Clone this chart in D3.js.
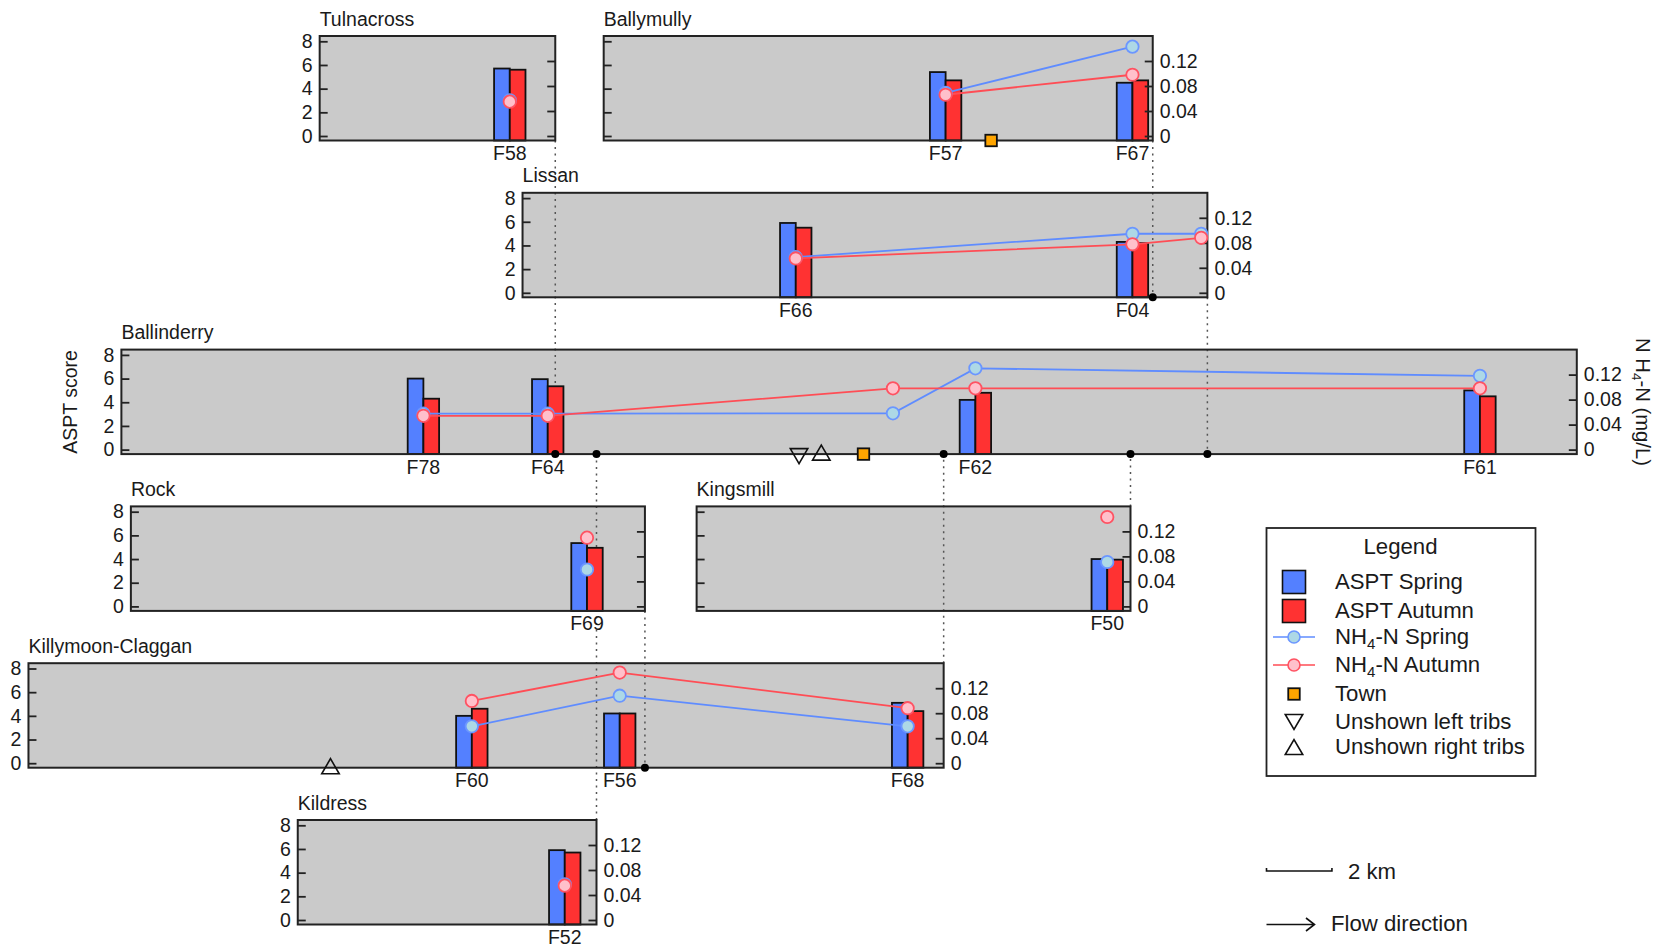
<!DOCTYPE html>
<html>
<head>
<meta charset="utf-8">
<script src="https://cdn.jsdelivr.net/npm/d3@7/dist/d3.min.js"></script>
<style>
html,body{margin:0;padding:0;background:#fff}
svg{display:block}
text{font-family:"Liberation Sans",Arial,sans-serif;fill:#1a1a1a}
</style>
</head>
<body>
<svg id="chart" width="1655" height="947"></svg>
<script>
// ---------- data ----------
const riverNames  = ["Tulnacross","Ballymully","Lissan","Ballinderry","Rock","Kingsmill","Killymoon-Claggan","Kildress"];
const riverStart  = [9.77,18.45,15.97,3.71,4.0,21.29,0.87,9.10];   // km
const riverEnd    = [16.97,35.23,36.90,48.19,19.71,34.55,28.84,18.23];
const riverParent = ["Ballinderry","Lissan","Ballinderry",null,"Killymoon-Claggan","Ballinderry","Ballinderry","Ballinderry"];
const riverRow    = [0,0,1,2,3,3,4,5];
const leftLabels  = [true,false,true,true,true,false,true,true];
const rightLabels = [false,true,true,true,false,true,true,true];

const siteNames  = ["F58","F57","F67","F66","F04","","F78","F64","","F62","F61","F69","F50","F60","F56","F68","F52"];
const siteRiver  = ["Tulnacross","Ballymully","Ballymully","Lissan","Lissan","Lissan","Ballinderry","Ballinderry","Ballinderry","Ballinderry","Ballinderry","Rock","Kingsmill","Killymoon-Claggan","Killymoon-Claggan","Killymoon-Claggan","Kildress"];
const siteKm     = [15.58,28.90,34.61,24.32,34.61,36.71,12.94,16.74,27.29,29.81,45.23,17.94,33.84,14.42,18.94,27.74,17.26];
const asptSpring = [5.7,5.4,4.5,5.9,4.3,null,6.0,5.95,null,4.2,5.0,5.35,4.0,4.0,4.2,5.1,5.9];
const asptAutumn = [5.6,4.7,4.7,5.5,4.2,null,4.3,5.35,null,4.8,4.5,4.95,3.95,4.6,4.2,4.4,5.7];
const nh4Spring  = [0.057,0.069,0.143,0.057,0.0945,0.0945,0.0575,0.0575,0.058,0.13,0.118,0.059,0.071,0.059,0.108,0.059,0.057];
const nh4Autumn  = [0.055,0.066,0.098,0.055,0.0776,0.088,0.054,0.054,0.098,0.098,0.098,0.11,0.143,0.0996,0.145,0.088,0.055];

const townKm = [30.29,26.39];
const townRiver = ["Ballymully","Ballinderry"];
const leftTribKm = [24.42];
const leftTribRiver = ["Ballinderry"];
const rightTribKm = [25.10,10.10];
const rightTribRiver = ["Ballinderry","Killymoon-Claggan"];

const asptTicks = [0,2,4,6,8];
const nh4Ticks  = [0,0.04,0.08,0.12];
const legendTitle = "Legend";
const legendLabels = [["ASPT Spring"],["ASPT Autumn"],["NH","4","-N Spring"],["NH","4","-N Autumn"],["Town"],["Unshown left tribs"],["Unshown right tribs"]];

// ---------- styles ----------
const C = {panel:"#cacaca",blue:"#5480ff",red:"#ff3232",lineB:"#5f8cff",lineR:"#ff4d55",
           fillB:"#add8e6",fillR:"#ffc0cb",edgeB:"#6b96ff",edgeR:"#ff5262",town:"#ffa500",ink:"#1a1a1a"};
const FS = 19.5, LS = 22.2;
const panelH = 104.5, rowTop = i => 36 + i*156.8;
const x = d3.scaleLinear().domain([0,50.58]).range([0,1655]);
const yA = d3.scaleLinear().domain([0,8]).range([100,5.3]);
const yN = d3.scaleLinear().domain([0,0.16]).range([100,0]);
const barW = x(0.48)-x(0);

const svg = d3.select("#chart");
const rivers = riverNames.map((name,i)=>({name,start:riverStart[i],end:riverEnd[i],parent:riverParent[i],row:riverRow[i],left:leftLabels[i],right:rightLabels[i]}));
const byName = new Map(rivers.map(r=>[r.name,r]));
const sites = siteNames.map((name,i)=>({name,river:siteRiver[i],km:siteKm[i],as:asptSpring[i],aa:asptAutumn[i],ns:nh4Spring[i],na:nh4Autumn[i]}));

// panel backgrounds
const backs = svg.append("g");
rivers.forEach(r=>{
  backs.append("rect").attr("x",x(r.start)).attr("y",rowTop(r.row)).attr("width",x(r.end)-x(r.start)).attr("height",panelH).attr("fill",C.panel);
});

// dotted connectors (tributary end -> parent baseline)
const conn = svg.append("g");
rivers.filter(r=>r.parent).forEach(r=>{
  const p = byName.get(r.parent);
  const pb = rowTop(p.row)+panelH;
  const y1 = r.row<p.row ? rowTop(r.row)+panelH : rowTop(r.row);
  conn.append("line").attr("x1",x(r.end)).attr("x2",x(r.end)).attr("y1",y1).attr("y2",pb)
    .attr("stroke","#555").attr("stroke-width",1.5).attr("stroke-dasharray","2 4.5");
});

// panels
rivers.forEach(r=>{
  const top = rowTop(r.row), g = svg.append("g").attr("transform",`translate(0,${top})`);
  const w = x(r.end)-x(r.start);
  const rs = sites.filter(s=>s.river===r.name);

  // bars
  rs.filter(s=>s.as!=null).forEach(s=>{
    g.append("rect").attr("x",x(s.km)-barW).attr("y",yA(s.as)).attr("width",barW).attr("height",panelH-yA(s.as))
      .attr("fill",C.blue).attr("stroke","#111").attr("stroke-width",1.8);
    g.append("rect").attr("x",x(s.km)).attr("y",yA(s.aa)).attr("width",barW).attr("height",panelH-yA(s.aa))
      .attr("fill",C.red).attr("stroke","#111").attr("stroke-width",1.8);
  });

  // frame + axes
  g.append("rect").attr("x",x(r.start)).attr("y",0).attr("width",w).attr("height",panelH)
    .attr("fill","none").attr("stroke","#222").attr("stroke-width",2);
  const fmt = d=>d===0?"0":String(d);
  const la = g.append("g").attr("transform",`translate(${x(r.start)},0)`)
    .call(d3.axisLeft(yA).tickValues(asptTicks).tickSizeInner(-8).tickSizeOuter(0).tickPadding(7).tickFormat(r.left?fmt:""));
  const ra = g.append("g").attr("transform",`translate(${x(r.end)},0)`)
    .call(d3.axisRight(yN).tickValues(nh4Ticks).tickSizeInner(-8).tickSizeOuter(0).tickPadding(7).tickFormat(r.right?fmt:""));
  [la,ra].forEach(a=>{
    a.select(".domain").remove();
    a.selectAll(".tick line").attr("stroke","#222").attr("stroke-width",1.8);
    a.selectAll(".tick text").attr("font-size",FS).attr("font-family",'"Liberation Sans",Arial,sans-serif').attr("fill",C.ink);
  });

  // NH4 lines + points
  const lineOf = key=>d3.line().x(d=>x(d.km)).y(d=>yN(d[key]));
  g.append("path").attr("d",lineOf("ns")(rs)).attr("fill","none").attr("stroke",C.lineB).attr("stroke-width",1.8);
  g.append("path").attr("d",lineOf("na")(rs)).attr("fill","none").attr("stroke",C.lineR).attr("stroke-width",1.8);
  g.selectAll("circle.s").data(rs).join("circle").attr("class","s").attr("cx",d=>x(d.km)).attr("cy",d=>yN(d.ns)).attr("r",6.2)
    .attr("fill",C.fillB).attr("stroke",C.edgeB).attr("stroke-width",1.8);
  g.selectAll("circle.a").data(rs).join("circle").attr("class","a").attr("cx",d=>x(d.km)).attr("cy",d=>yN(d.na)).attr("r",6.2)
    .attr("fill",C.fillR).attr("stroke",C.edgeR).attr("stroke-width",1.8);

  // labels
  g.append("text").attr("x",x(r.start)).attr("y",-10.5).attr("font-size",FS).text(r.name);
  rs.filter(s=>s.name).forEach(s=>{
    g.append("text").attr("x",x(s.km)).attr("y",panelH+19.5).attr("text-anchor","middle").attr("font-size",FS).text(s.name);
  });
});

// junction dots
rivers.filter(r=>r.parent).forEach(r=>{
  const p = byName.get(r.parent);
  svg.append("circle").attr("cx",x(r.end)).attr("cy",rowTop(p.row)+panelH).attr("r",4).attr("fill","#000");
});

// town + tribs symbols
const sym = (sel,type,cx,cy,size)=>{
  if(type==="town") sel.append("rect").attr("x",cx-size/2).attr("y",cy-size/2).attr("width",size).attr("height",size)
     .attr("fill",C.town).attr("stroke","#111").attr("stroke-width",1.8);
  else {
    const h=size*0.86, d = type==="down"
      ? `M${cx-size/2},${cy-h/2}L${cx+size/2},${cy-h/2}L${cx},${cy+h/2}Z`
      : `M${cx-size/2},${cy+h/2}L${cx+size/2},${cy+h/2}L${cx},${cy-h/2}Z`;
    sel.append("path").attr("d",d).attr("fill","none").attr("stroke","#111").attr("stroke-width",1.6);
  }
};
townKm.forEach((k,i)=>sym(svg,"town",x(k),rowTop(byName.get(townRiver[i]).row)+panelH,11.5));
leftTribKm.forEach((k,i)=>sym(svg,"down",x(k),rowTop(byName.get(leftTribRiver[i]).row)+panelH+2,17.5));
rightTribKm.forEach((k,i)=>sym(svg,"up",x(k),rowTop(byName.get(rightTribRiver[i]).row)+panelH-1.5,17.5));

// axis titles
svg.append("text").attr("transform","translate(77,402) rotate(-90)").attr("text-anchor","middle").attr("font-size",FS).text("ASPT score");
const rt = svg.append("text").attr("transform","translate(1636,402) rotate(90)").attr("text-anchor","middle").attr("font-size",FS+0.8);
rt.append("tspan").text("N H");
rt.append("tspan").attr("font-size",13.5).attr("dy",4).text("4");
rt.append("tspan").attr("dy",-4).text("-N (mg/L)");

// legend
const L = svg.append("g");
L.append("rect").attr("x",1266.5).attr("y",528).attr("width",269).attr("height",248).attr("fill","#fff").attr("stroke","#222").attr("stroke-width",1.8);
L.append("text").attr("x",1400.5).attr("y",554).attr("text-anchor","middle").attr("font-size",LS).text(legendTitle);
const legY = [582,611,637,665,694,722,747];
const legSX = 1294, legTX = 1335;
legendLabels.forEach((parts,i)=>{
  const yc = legY[i];
  const t = L.append("text").attr("x",legTX).attr("y",yc+7).attr("font-size",LS);
  if(parts.length===1) t.text(parts[0]);
  else {
    t.append("tspan").text(parts[0]);
    t.append("tspan").attr("font-size",15).attr("dy",5).text(parts[1]);
    t.append("tspan").attr("dy",-5).text(parts[2]);
  }
  if(i<2) L.append("rect").attr("x",legSX-11.5).attr("y",yc-11.5).attr("width",23).attr("height",23)
      .attr("fill",i===0?C.blue:C.red).attr("stroke","#111").attr("stroke-width",1.6);
  else if(i<4){
    L.append("line").attr("x1",legSX-21).attr("x2",legSX+21).attr("y1",yc).attr("y2",yc).attr("stroke",i===2?C.lineB:C.lineR).attr("stroke-width",1.6);
    L.append("circle").attr("cx",legSX).attr("cy",yc).attr("r",6).attr("fill",i===2?C.fillB:C.fillR).attr("stroke",i===2?C.edgeB:C.edgeR).attr("stroke-width",1.6);
  }
  else if(i===4) sym(L,"town",legSX,yc,11.5);
  else sym(L,i===5?"down":"up",legSX,yc,17.5);
});

// scale bar + flow arrow
const barLeft = 1266.5, barY = 871;
L.append("path").attr("d",`M${barLeft},${barY-3}V${barY}H${barLeft+x(2)-x(0)}V${barY-3}`).attr("fill","none").attr("stroke","#111").attr("stroke-width",1.6);
L.append("text").attr("x",1348).attr("y",879).attr("font-size",LS).text("2 km");
L.append("path").attr("d",`M1266.5,924.5H1314M1306,918L1314.5,924.5L1306,931`).attr("fill","none").attr("stroke","#111").attr("stroke-width",1.6);
L.append("text").attr("x",1331).attr("y",931).attr("font-size",LS).text("Flow direction");
</script>
</body>
</html>
